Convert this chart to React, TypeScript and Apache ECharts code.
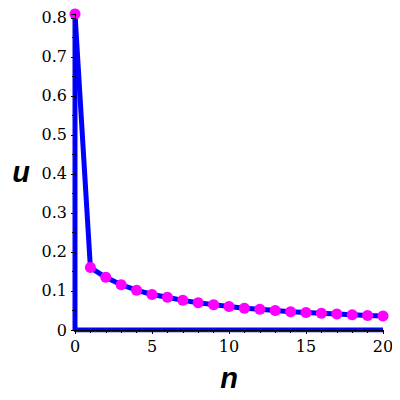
import React, { useEffect, useRef } from "react";
import * as echarts from "echarts";

const nValues = [0, 1, 2, 3, 4, 5, 6, 7, 8, 9, 10, 11, 12, 13, 14, 15, 16, 17, 18, 19, 20];
const uValues = [0.81, 0.16, 0.135, 0.116, 0.102, 0.091, 0.084, 0.076, 0.07, 0.065, 0.06, 0.056, 0.053, 0.05, 0.047, 0.045, 0.043, 0.041, 0.039, 0.037, 0.036];
// blue polyline that runs along the axes: (20,0) -> (0,0) -> (0,u0)
const frameX = [20, 0, 0];
const frameY = [0, 0, 0.81];

export default function App() {
  const ref = useRef<HTMLDivElement>(null);
  useEffect(() => {
    if (!ref.current) return;
    const chart = echarts.init(ref.current, undefined, { renderer: "svg" });
    const serif = "DejaVu Serif";
    const sans = "Liberation Sans";
    chart.setOption({
      animation: false,
      grid: { left: 75, right: 17, top: 14, bottom: 70, containLabel: false },
      xAxis: {
        type: "value",
        min: 0,
        max: 20,
        interval: 5,
        z: 10,
        axisLine: { show: true, lineStyle: { color: "#000", width: 1 } },
        axisTick: { show: true, length: 4, lineStyle: { color: "#000" } },
        minorTick: { show: true, splitNumber: 5, length: 3, lineStyle: { color: "#000" } },
        splitLine: { show: false },
        axisLabel: { color: "#000", fontFamily: serif, fontSize: 16, margin: 8 },
        name: "n",
        nameLocation: "middle",
        nameGap: 33,
        nameTextStyle: { color: "#000", fontFamily: sans, fontSize: 29, fontWeight: "bold", fontStyle: "italic" },
      },
      yAxis: {
        type: "value",
        min: 0,
        max: 0.81,
        interval: 0.1,
        z: 10,
        axisLine: { show: true, lineStyle: { color: "#000", width: 1 } },
        axisTick: { show: true, length: 4, lineStyle: { color: "#000" } },
        minorTick: { show: true, splitNumber: 2, length: 3, lineStyle: { color: "#000" } },
        splitLine: { show: false },
        axisLabel: {
          color: "#000",
          fontFamily: serif,
          fontSize: 16,
          margin: 8,
          formatter: (v: number) => (v === 0 ? "0" : (Math.round(v * 10) / 10).toString()),
        },
        name: "u",
        nameLocation: "middle",
        nameGap: 45,
        nameRotate: 0,
        nameTextStyle: { color: "#000", fontFamily: sans, fontSize: 29, fontWeight: "bold", fontStyle: "italic" },
      },
      series: [
        {
          type: "line",
          data: frameX.map((x, i) => [x, frameY[i]]),
          symbol: "none",
          lineStyle: { color: "#0000ff", width: 5 },
          z: 2,
        },
        {
          type: "line",
          data: nValues.map((n, i) => [n, uValues[i]]),
          symbol: "circle",
          symbolSize: 11,
          itemStyle: { color: "#ff00ff" },
          lineStyle: { color: "#0000ff", width: 5 },
          z: 3,
        },
      ],
    });
    return () => chart.dispose();
  }, []);
  return <div ref={ref} style={{ width: 400, height: 400, margin: -8 }} />;
}
